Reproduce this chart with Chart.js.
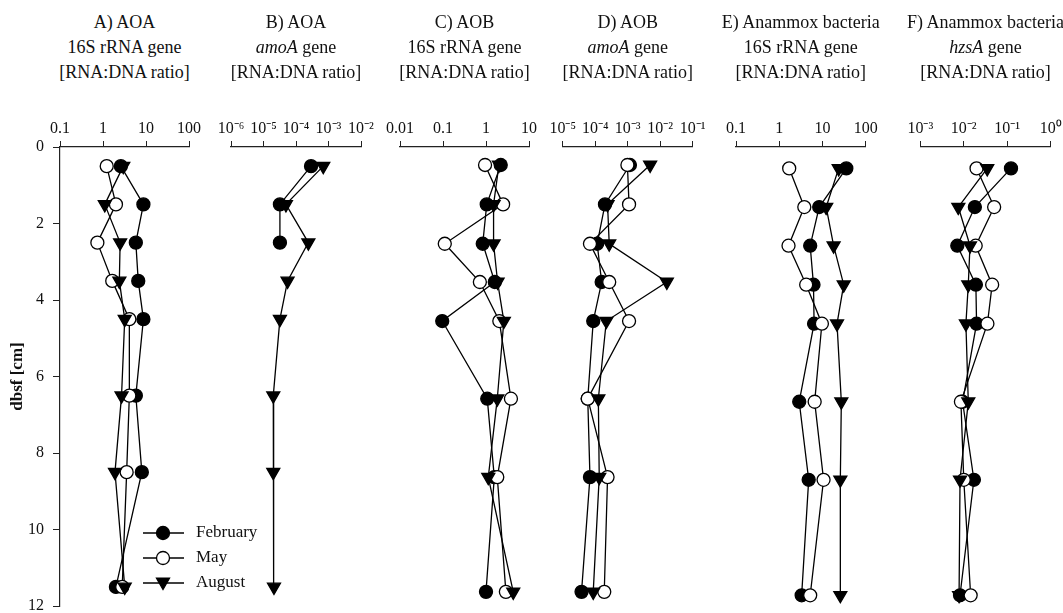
<!DOCTYPE html>
<html>
<head>
<meta charset="utf-8">
<script src="https://cdn.jsdelivr.net/npm/chart.js@4.4.1/dist/chart.umd.min.js"></script>
<style>
  html, body { margin: 0; padding: 0; background: #fff; overflow: hidden; }
  #wrap { position: relative; width: 1063px; height: 613px; }
  #wrap canvas { position: absolute; left: 0; top: 0; }
  .ttl {
    position: absolute; top: 10px; width: 240px; margin-left: -120px;
    text-align: center; font: 18px "Liberation Serif", "Times New Roman", serif;
    line-height: 25px; color: #111; white-space: nowrap;
  }
</style>
</head>
<body>
<div id="wrap"></div>
<script>
// ---- sampling months ----
const months = ['February', 'May', 'August'];

// ---- sampling depths (cm below sediment surface) of each core set ----
const depthsAB = [0.5, 1.5, 2.5, 3.5, 4.5, 6.5, 8.5, 11.5];
const depthsCD = [0.47, 1.5, 2.53, 3.53, 4.55, 6.58, 8.63, 11.63];
const depthsEF = [0.56, 1.57, 2.58, 3.6, 4.62, 6.66, 8.7, 11.72];

// ---- A) AOA 16S rRNA gene, RNA:DNA ratio ----
const aoa16sFeb = [2.6, 8.7, 5.8, 6.6, 8.7, 5.8, 8.0, 2.0];
const aoa16sMay = [1.22, 2.0, 0.74, 1.64, 4.1, 4.1, 3.55, 2.8];
const aoa16sAug = [2.96, 1.1, 2.5, 2.4, 3.2, 2.7, 1.9, 3.2];

// ---- B) AOA amoA gene, RNA:DNA ratio ----
const aoaAmoaFeb = [2.9e-4, 3.2e-5, 3.2e-5];
const aoaAmoaAug = [6.9e-4, 4.9e-5, 2.4e-4, 5.5e-5, 3.2e-5, 2.0e-5, 2.0e-5, 2.1e-5];

// ---- C) AOB 16S rRNA gene, RNA:DNA ratio ----
const aob16sFeb = [2.2, 1.04, 0.84, 1.6, 0.096, 1.07, 1.56, 1.0];
const aob16sMay = [0.95, 2.5, 0.11, 0.72, 2.04, 3.8, 1.83, 2.9];
const aob16sAug = [2.0, 1.5, 1.5, 1.86, 2.6, 1.83, 1.13, 4.3];

// ---- D) AOB amoA gene, RNA:DNA ratio ----
const aobAmoaFeb = [1.17e-3, 2.0e-4, 1.15e-4, 1.58e-4, 8.7e-5, 5.9e-5, 6.9e-5, 3.8e-5];
const aobAmoaMay = [9.8e-4, 1.1e-3, 6.9e-5, 2.7e-4, 1.1e-3, 5.9e-5, 2.4e-4, 1.9e-4];
const aobAmoaAug = [4.9e-3, 2.4e-4, 2.7e-4, 1.6e-2, 2.2e-4, 1.25e-4, 1.33e-4, 8.7e-5];

// ---- E) Anammox bacteria 16S rRNA gene, RNA:DNA ratio ----
const amx16sFeb = [35.6, 8.4, 5.2, 6.2, 6.4, 2.9, 4.8, 3.3];
const amx16sMay = [1.7, 3.8, 1.64, 4.2, 9.7, 6.6, 10.6, 5.2];
const amx16sAug = [23.7, 12.2, 18.1, 31, 21.7, 27.3, 25.9, 25.9];

// ---- F) Anammox bacteria hzsA gene, RNA:DNA ratio ----
const amxHzsaFeb = [0.122, 0.018, 0.0071, 0.019, 0.0197, 0.0094, 0.0171, 0.0082];
const amxHzsaMay = [0.0197, 0.05, 0.0188, 0.045, 0.035, 0.0086, 0.01, 0.0144];
const amxHzsaAug = [0.0347, 0.0075, 0.0139, 0.0127, 0.0112, 0.0127, 0.0082, 0.0078];

// ---- axis ticks ----
const ticksTenth = [0.1, 1, 10, 100];
const labelsTenth = ['0.1', '1', '10', '100'];
const ticksB = [1e-6, 1e-5, 1e-4, 1e-3, 1e-2];
const labelsB = ['10\u207B\u2076', '10\u207B\u2075', '10\u207B\u2074', '10\u207B\u00B3', '10\u207B\u00B2'];
const ticksC = [0.01, 0.1, 1, 10];
const labelsC = ['0.01', '0.1', '1', '10'];
const ticksD = [1e-5, 1e-4, 1e-3, 1e-2, 1e-1];
const labelsD = ['10\u207B\u2075', '10\u207B\u2074', '10\u207B\u00B3', '10\u207B\u00B2', '10\u207B\u00B9'];
const ticksF = [1e-3, 1e-2, 1e-1, 1];
const labelsF = ['10\u207B\u00B3', '10\u207B\u00B2', '10\u207B\u00B9', '10\u2070'];
const depthTicks = [0, 2, 4, 6, 8, 10, 12];

// ---- panel titles ----
const titleA = ['A) AOA', '16S rRNA gene', '[RNA:DNA ratio]'];
const titleB = ['B) AOA', '<i>amoA</i> gene', '[RNA:DNA ratio]'];
const titleC = ['C) AOB', '16S rRNA gene', '[RNA:DNA ratio]'];
const titleD = ['D) AOB', '<i>amoA</i> gene', '[RNA:DNA ratio]'];
const titleE = ['E) Anammox bacteria', '16S rRNA gene', '[RNA:DNA ratio]'];
const titleF = ['F) Anammox bacteria', '<i>hzsA</i> gene', '[RNA:DNA ratio]'];

// ---- page layout: pixel span of each panel's log axis ----
const W = 1063, H = 613;
const PLOT_TOP = 147, PLOT_BOTTOM = 606, AXIS_H = 40;
const panels = [
  { title: titleA, left: 60, right: 189, ticks: ticksTenth, labels: labelsTenth, depths: depthsAB, series: [aoa16sFeb, aoa16sMay, aoa16sAug], depthAxis: true },
  { title: titleB, left: 231, right: 361, ticks: ticksB, labels: labelsB, depths: depthsAB, series: [aoaAmoaFeb, null, aoaAmoaAug] },
  { title: titleC, left: 400, right: 529, ticks: ticksC, labels: labelsC, depths: depthsCD, series: [aob16sFeb, aob16sMay, aob16sAug] },
  { title: titleD, left: 562.7, right: 692.7, ticks: ticksD, labels: labelsD, depths: depthsCD, series: [aobAmoaFeb, aobAmoaMay, aobAmoaAug] },
  { title: titleE, left: 736, right: 865.7, ticks: ticksTenth, labels: labelsTenth, depths: depthsEF, series: [amx16sFeb, amx16sMay, amx16sAug] },
  { title: titleF, left: 920.3, right: 1050.7, ticks: ticksF, labels: labelsF, depths: depthsEF, series: [amxHzsaFeb, amxHzsaMay, amxHzsaAug] }
];

const INK = '#111';
const SERIF = '"Liberation Serif", "Times New Roman", serif';
Chart.defaults.font.family = SERIF;
Chart.defaults.color = INK;

// marker look per month: filled circle, open circle, filled down-triangle
const markers = [
  { pointStyle: 'circle', radius: 6.5, fill: '#000', rotation: 0 },
  { pointStyle: 'circle', radius: 6.5, fill: '#fff', rotation: 0 },
  { pointStyle: 'triangle', radius: 7.5, fill: '#000', rotation: 180 }
];

function drawMarker(ctx, m, x, y) {
  ctx.beginPath();
  if (m.pointStyle === 'circle') {
    ctx.arc(x, y, m.radius, 0, Math.PI * 2);
  } else {
    const r = m.radius, a = m.rotation * Math.PI / 180;
    for (let k = 0; k < 3; k++) {
      const t = a + k * 2 * Math.PI / 3;
      const px = x + Math.sin(t) * r, py = y - Math.cos(t) * r;
      if (k === 0) ctx.moveTo(px, py); else ctx.lineTo(px, py);
    }
    ctx.closePath();
  }
  ctx.fillStyle = m.fill;
  ctx.fill();
  ctx.lineWidth = 1.3;
  ctx.strokeStyle = '#000';
  ctx.stroke();
}

// month key drawn inside panel A
const monthKey = {
  id: 'monthKey',
  afterDraw(chart) {
    const ctx = chart.ctx;
    ctx.save();
    months.forEach((name, i) => {
      const y = 533 + i * 25;
      ctx.beginPath();
      ctx.moveTo(143, y); ctx.lineTo(184, y);
      ctx.lineWidth = 1.3; ctx.strokeStyle = '#000'; ctx.stroke();
      drawMarker(ctx, markers[i], 163, i === 2 ? y - 1 : y);
      ctx.fillStyle = INK;
      ctx.font = '17px ' + SERIF;
      ctx.textAlign = 'left'; ctx.textBaseline = 'middle';
      ctx.fillText(name, 196, y);
    });
    ctx.restore();
  }
};

const wrap = document.getElementById('wrap');

panels.forEach(p => {
  // title block
  const t = document.createElement('div');
  t.className = 'ttl';
  t.style.left = ((p.left + p.right) / 2) + 'px';
  t.innerHTML = p.title.join('<br>');
  wrap.appendChild(t);

  const canvas = document.createElement('canvas');
  canvas.width = W; canvas.height = H;
  wrap.appendChild(canvas);

  const datasets = [];
  p.series.forEach((vals, i) => {
    if (!vals) return;
    const pts = vals.map((v, k) => ({ x: v, y: p.depths[k] }));
    // connecting line underneath all markers
    datasets.push({
      label: months[i] + ' line', data: pts, showLine: true,
      borderColor: '#000', borderWidth: 1.3, pointRadius: 0, fill: false,
      clip: false, order: 10
    });
    // markers, August on top
    datasets.push({
      label: months[i], data: pts, showLine: false,
      pointStyle: markers[i].pointStyle, pointRadius: markers[i].radius,
      pointRotation: markers[i].rotation, pointBackgroundColor: markers[i].fill,
      pointBorderColor: '#000', pointBorderWidth: 1.3,
      clip: false, order: 2 - i
    });
  });

  const yAxisWidth = p.depthAxis ? p.left : 0;

  new Chart(canvas, {
    type: 'scatter',
    data: { datasets },
    plugins: p.depthAxis ? [monthKey] : [],
    options: {
      responsive: false,
      animation: false,
      devicePixelRatio: 1,
      layout: {
        autoPadding: false,
        padding: {
          top: PLOT_TOP - AXIS_H,
          bottom: H - PLOT_BOTTOM,
          left: p.depthAxis ? 0 : p.left,
          right: W - p.right
        }
      },
      plugins: { legend: { display: false }, tooltip: { enabled: false } },
      scales: {
        x: {
          type: 'logarithmic',
          position: 'top',
          min: p.ticks[0],
          max: p.ticks[p.ticks.length - 1],
          afterBuildTicks: s => { s.ticks = p.ticks.map(v => ({ value: v })); },
          afterFit: s => { s.height = AXIS_H; s.paddingLeft = 0; s.paddingRight = 0; },
          ticks: {
            autoSkip: false, maxRotation: 0, minRotation: 0, padding: 3,
            font: { size: 16 }, color: INK,
            callback: (v, i) => p.labels[i]
          },
          grid: { display: true, drawOnChartArea: false, drawTicks: true, tickLength: 6, color: '#222', lineWidth: 1 },
          border: { display: true, color: '#222', width: 1.2 }
        },
        y: {
          type: 'linear',
          display: !!p.depthAxis,
          reverse: true,
          min: 0, max: 12,
          afterBuildTicks: s => { s.ticks = depthTicks.map(v => ({ value: v })); },
          afterFit: s => { s.width = yAxisWidth; s.paddingTop = 0; s.paddingBottom = 0; },
          ticks: { font: { size: 16 }, color: INK, padding: 9 },
          grid: { display: true, drawOnChartArea: false, drawTicks: true, tickLength: 7, color: '#222', lineWidth: 1 },
          border: { display: true, color: '#222', width: 1.2 },
          title: {
            display: true, text: 'dbsf [cm]', color: INK,
            font: { size: 17, weight: 'bold' },
            padding: { top: 7, bottom: 0 }
          }
        }
      }
    }
  });
});
</script>
</body>
</html>
